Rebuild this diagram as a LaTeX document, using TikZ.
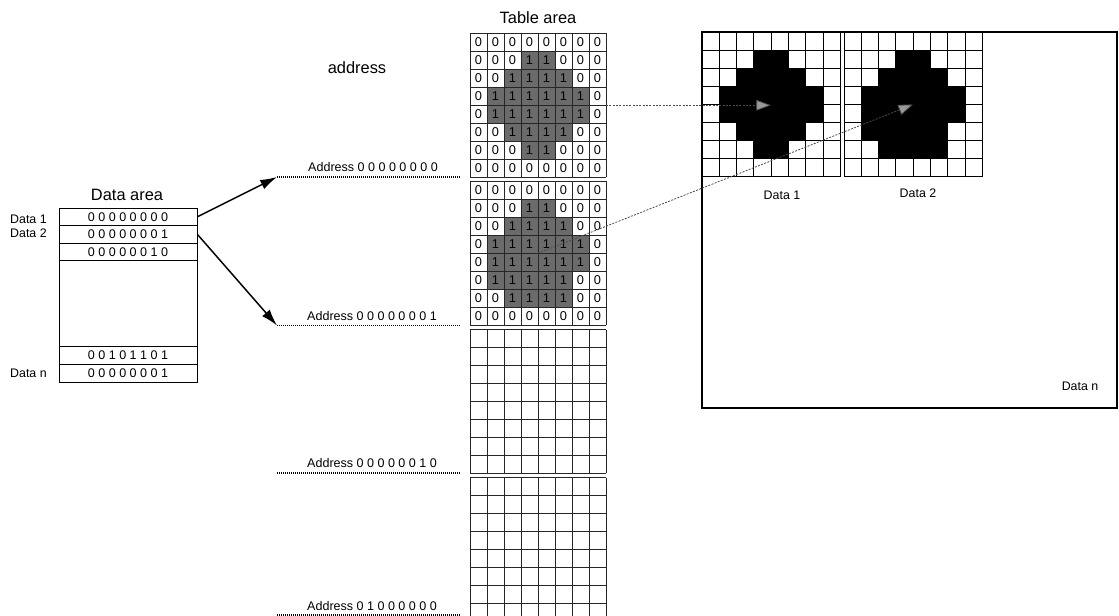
\documentclass[tikz,border=0pt]{standalone}
\usepackage{fontspec}
\setmainfont{Liberation Sans}
\usetikzlibrary{arrows.meta}
\definecolor{cellgray}{gray}{0.42}
\definecolor{arrgray}{gray}{0.3}
\tikzset{
  titletext/.style={font=\fontsize{12.3}{14}\selectfont, inner sep=0pt},
  smalltext/.style={font=\fontsize{9.3}{10}\selectfont, inner sep=0pt},
  addrtext/.style={font=\fontsize{9.4}{10}\selectfont, inner sep=0pt},
  digit/.style={font=\fontsize{9.6}{10}\selectfont, inner sep=0pt},
  drow/.style={draw, line width=0.65pt, minimum width=103.5pt, inner sep=0pt, font=\fontsize{9.4}{10}\selectfont},
  tgrid/.style={draw=black!85, line width=0.65pt},
  rgrid/.style={draw=black, line width=0.7pt},
  addrline/.style={line width=0.85pt, dash pattern=on 0.8pt off 0.7pt},
  maparrow/.style={line width=1.1pt, -{Latex[length=12.5pt,width=7.5pt]}},
  ptrarrow/.style={draw=arrgray, line width=0.6pt, dash pattern=on 1.5pt off 1pt, -{Triangle[length=11pt,width=8pt,fill=black!40]}},
}
% table block with digits: #1 top y, #2 pattern rows
\newcommand\tabblock[2]{%
  \foreach \row [count=\ri from 0] in {#2} {
    \foreach \v [count=\ci from 0] in \row {
      \ifnum\v=1 \fill[cellgray] (470+\ci*17, #1+\ri*17.94) rectangle ++(17,17.94);\fi
      \node[digit] at (478.5+\ci*17, #1+8.97+\ri*17.94) {\v};
    }
  }
  \tabgrid{#1}%
}
\newcommand\tabgrid[1]{%
  \foreach \i in {0,...,8} \draw[tgrid] (470+\i*17,#1) -- ++(0,143.5);
  \foreach \j in {0,...,8} \draw[tgrid] (470,#1+\j*17.94) -- ++(136,0);
}
% right-hand pixel grid: #1 left x, #2 pattern rows
\newcommand\pixgrid[2]{%
  \foreach \row [count=\ri from 0] in {#2} {
    \foreach \v [count=\ci from 0] in \row {
      \ifnum\v=1 \fill[black] (#1+\ci*17.3, 32+\ri*18.1) rectangle ++(17.3,18.1);\fi
    }
  }
  \foreach \i in {0,...,8} \draw[rgrid] (#1+\i*17.3,32) -- ++(0,144.8);
  \foreach \j in {0,...,8} \draw[rgrid] (#1,32+\j*18.1) -- ++(138.4,0);
}
\begin{document}
\begin{tikzpicture}[x=0.75pt,y=-0.75pt]
\clip (0,0) rectangle (1119,616);
\fill[white] (0,0) rectangle (1119,616);

% ---- titles
\node[titletext] (tabtitle) at (538,18) {Table area};
\node[titletext] (addrtitle) at (357,68) {address};
\node[titletext] (datatitle) at (127,195) {Data area};

% ---- data area
\node[drow, minimum height=13.2pt] (d1) at (128,216.8) {0 0 0 0 0 0 0 0};
\node[drow, minimum height=13.2pt] (d2) at (128,234.4) {0 0 0 0 0 0 0 1};
\node[drow, minimum height=13.2pt] (d3) at (128,252.0) {0 0 0 0 0 0 1 0};
\node[drow, minimum height=63.9pt] (dgap) at (128,303.4) {};
\node[drow, minimum height=13.5pt] (d4) at (128,355) {0 0 1 0 1 1 0 1};
\node[drow, minimum height=13.5pt] (dn) at (128,373) {0 0 0 0 0 0 0 1};
\node[smalltext, anchor=east] (ld1) at (47,219) {Data 1};
\node[smalltext, anchor=east] (ld2) at (47,233) {Data 2};
\node[smalltext, anchor=east] (ldn) at (47,373) {Data n};

% ---- table area blocks
\tabblock{33.5}{{0,0,0,0,0,0,0,0},{0,0,0,1,1,0,0,0},{0,0,1,1,1,1,0,0},{0,1,1,1,1,1,1,0},{0,1,1,1,1,1,1,0},{0,0,1,1,1,1,0,0},{0,0,0,1,1,0,0,0},{0,0,0,0,0,0,0,0}}
\tabblock{181.5}{{0,0,0,0,0,0,0,0},{0,0,0,1,1,0,0,0},{0,0,1,1,1,1,0,0},{0,1,1,1,1,1,1,0},{0,1,1,1,1,1,1,0},{0,1,1,1,1,1,0,0},{0,0,1,1,1,1,0,0},{0,0,0,0,0,0,0,0}}
\tabgrid{329.5}
\tabgrid{477.5}
\coordinate (blk1e) at (606,105.25);
\coordinate (blk2c) at (538,253.25);

% ---- addresses
\coordinate (addr0) at (277,177);   \coordinate (addr0e) at (460,177);
\coordinate (addr1) at (277,325.5); \coordinate (addr1e) at (460,325.5);
\coordinate (addr2) at (277,473);   \coordinate (addr2e) at (460,473);
\coordinate (addr3) at (277,615);   \coordinate (addr3e) at (460,615);
\draw[addrline] (addr0) -- (addr0e);
\draw[addrline] (addr1) -- (addr1e);
\draw[addrline] (addr2) -- (addr2e);
\draw[addrline] (addr3) -- (addr3e);
\node[addrtext] (la0) at (373,167) {Address 0 0 0 0 0 0 0 0};
\node[addrtext] (la1) at (372,316) {Address 0 0 0 0 0 0 0 1};
\node[addrtext] (la2) at (372,463) {Address 0 0 0 0 0 0 1 0};
\node[addrtext] (la3) at (372,606) {Address 0 1 0 0 0 0 0 0};

% ---- display area
\draw[line width=1.1pt] (702,32) rectangle (1117,408);
\pixgrid{702}{{0,0,0,0,0,0,0,0},{0,0,0,1,1,0,0,0},{0,0,1,1,1,1,0,0},{0,1,1,1,1,1,1,0},{0,1,1,1,1,1,1,0},{0,0,1,1,1,1,0,0},{0,0,0,1,1,0,0,0},{0,0,0,0,0,0,0,0}}
\pixgrid{844}{{0,0,0,0,0,0,0,0},{0,0,0,1,1,0,0,0},{0,0,1,1,1,1,0,0},{0,1,1,1,1,1,1,0},{0,1,1,1,1,1,1,0},{0,1,1,1,1,1,0,0},{0,0,1,1,1,1,0,0},{0,0,0,0,0,0,0,0}}
\coordinate (g1c) at (771,104.5);
\coordinate (g2c) at (913,104.5);
\node[smalltext] (lg1) at (782,195) {Data 1};
\node[smalltext] (lg2) at (918,193) {Data 2};
\node[smalltext] (lgn) at (1080,386) {Data n};

% ---- connectors
\draw[maparrow] (d1.east) -- (addr0);
\draw[maparrow] (d2.east) -- (addr1);
\draw[ptrarrow] (blk1e) -- (blk1e -| g1c);
\draw[ptrarrow] (blk2c) -- (g2c);
\end{tikzpicture}
\end{document}
